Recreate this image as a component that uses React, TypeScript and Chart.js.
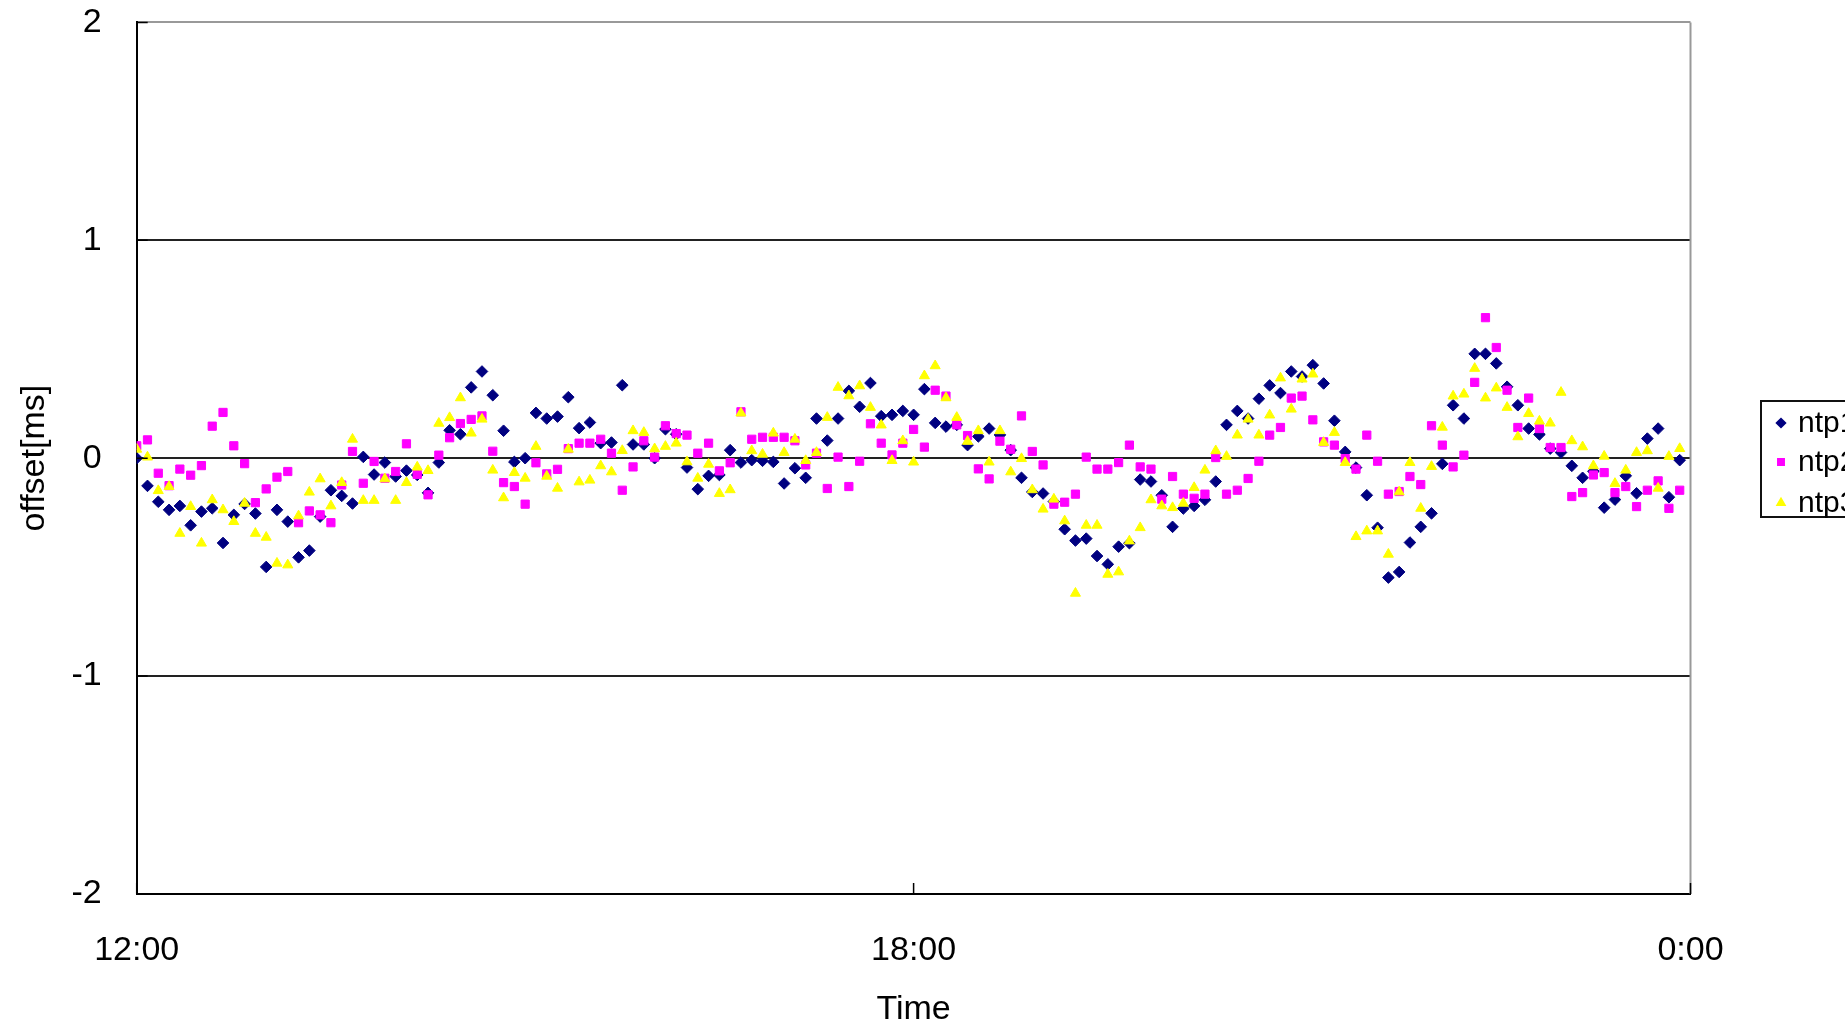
import { useEffect, useRef } from "react";
import { Chart, registerables, type ChartConfiguration, type Plugin } from "chart.js";
import { drawPoint } from "chart.js/helpers";

Chart.register(...registerables);

// offsets in ms, one sample every 5 minutes starting at 12:00
const NTP1 = [
  0.0, -0.127, -0.2, -0.237, -0.219, -0.308, -0.245, -0.23, -0.389, -0.26,
  -0.21, -0.254, -0.499, -0.237, -0.291, -0.455, -0.424, -0.268, -0.147, -0.173,
  -0.208, 0.006, -0.075, -0.02, -0.084, -0.057, -0.077, -0.159, -0.02, 0.128,
  0.11, 0.325, 0.398, 0.289, 0.126, -0.017, 0.0, 0.208, 0.182, 0.191,
  0.28, 0.138, 0.164, 0.069, 0.072, 0.335, 0.063, 0.063, 0.0, 0.133,
  0.11, -0.043, -0.142, -0.081, -0.077, 0.037, -0.02, -0.009, -0.012, -0.017,
  -0.116, -0.046, -0.09, 0.182, 0.081, 0.182, 0.309, 0.236, 0.345, 0.193,
  0.199, 0.217, 0.199, 0.317, 0.162, 0.145, 0.153, 0.06, 0.1, 0.136,
  0.107, 0.037, -0.09, -0.155, -0.162, -0.199, -0.326, -0.378, -0.369, -0.449,
  -0.487, -0.406, -0.39, -0.098, -0.107, -0.17, -0.315, -0.231, -0.219, -0.191,
  -0.107, 0.153, 0.217, 0.182, 0.273, 0.334, 0.299, 0.398, 0.375, 0.427,
  0.343, 0.172, 0.029, -0.043, -0.17, -0.319, -0.548, -0.522, -0.387, -0.315,
  -0.253, -0.026, 0.243, 0.182, 0.479, 0.479, 0.435, 0.328, 0.243, 0.136,
  0.109, 0.044, 0.026, -0.035, -0.09, -0.06, -0.227, -0.19, -0.081, -0.161,
  0.09, 0.136, -0.179, -0.009,
];

const NTP2 = [
  0.057, 0.084, -0.069, -0.126, -0.05, -0.078, -0.034, 0.147, 0.21, 0.057,
  -0.025, -0.204, -0.141, -0.087, -0.061, -0.296, -0.242, -0.26, -0.296, -0.123,
  0.031, -0.115, -0.015, -0.092, -0.061, 0.066, -0.074, -0.168, 0.014, 0.094,
  0.159, 0.178, 0.194, 0.032, -0.112, -0.13, -0.211, -0.021, -0.072, -0.051,
  0.044, 0.069, 0.069, 0.087, 0.023, -0.147, -0.04, 0.08, 0.005, 0.149,
  0.113, 0.106, 0.023, 0.069, -0.058, -0.021, 0.213, 0.087, 0.096, 0.096,
  0.096, 0.08, -0.031, 0.023, -0.139, 0.005, -0.13, -0.014, 0.158, 0.069,
  0.015, 0.069, 0.132, 0.051, 0.312, 0.285, 0.153, 0.104, -0.049, -0.095,
  0.078, 0.041, 0.194, 0.031, -0.031, -0.211, -0.202, -0.165, 0.005, -0.05,
  -0.05, -0.02, 0.06, -0.04, -0.05, -0.188, -0.084, -0.165, -0.184, -0.165,
  0.003, -0.165, -0.147, -0.093, -0.014, 0.106, 0.141, 0.276, 0.285, 0.176,
  0.075, 0.06, -0.002, -0.05, 0.106, -0.014, -0.165, -0.153, -0.084, -0.121,
  0.149, 0.06, -0.04, 0.014, 0.348, 0.645, 0.508, 0.312, 0.141, 0.276,
  0.136, 0.049, 0.049, -0.176, -0.158, -0.077, -0.066, -0.158, -0.13, -0.222,
  -0.147, -0.104, -0.23, -0.147,
];

const NTP3 = [
  0.041, 0.005, -0.149, -0.13, -0.345, -0.222, -0.39, -0.191, -0.237, -0.291,
  -0.207, -0.345, -0.363, -0.482, -0.49, -0.265, -0.156, -0.095, -0.219, -0.112,
  0.087, -0.194, -0.194, -0.095, -0.194, -0.112, -0.041, -0.057, 0.16, 0.186,
  0.277, 0.115, 0.179, -0.055, -0.182, -0.066, -0.092, 0.054, -0.083, -0.138,
  0.041, -0.109, -0.101, -0.035, -0.063, 0.035, 0.126, 0.118, 0.043, 0.054,
  0.069, -0.017, -0.092, -0.028, -0.162, -0.145, 0.207, 0.034, 0.018, 0.115,
  0.026, 0.087, -0.011, 0.026, 0.187, 0.325, 0.286, 0.332, 0.233, 0.152,
  -0.011, 0.08, -0.018, 0.378, 0.424, 0.277, 0.187, 0.077, 0.126, -0.018,
  0.126, -0.063, -0.002, -0.145, -0.234, -0.188, -0.288, -0.62, -0.308, -0.308,
  -0.533, -0.522, -0.38, -0.319, -0.191, -0.219, -0.227, -0.207, -0.135, -0.055,
  0.034, 0.008, 0.106, 0.179, 0.106, 0.198, 0.368, 0.225, 0.363, 0.386,
  0.072, 0.118, -0.02, -0.36, -0.334, -0.334, -0.441, -0.155, -0.02, -0.23,
  -0.038, 0.142, 0.285, 0.294, 0.412, 0.276, 0.322, 0.233, 0.098, 0.205,
  0.17, 0.161, 0.302, 0.08, 0.052, -0.035, 0.009, -0.116, -0.055, 0.026,
  0.034, -0.138, 0.008, 0.044,
];

const SERIES_NAMES = ["ntp1", "ntp2", "ntp3"];
const X_TICK_LABELS = ["12:00", "18:00", "0:00"];
const SAMPLE_MINUTES = 5;
const SPAN_MINUTES = 720;

const FONT = "'Liberation Sans', Arial, sans-serif";

const toPoints = (vals: number[]) =>
  vals.map((y, i) => ({ x: i * SAMPLE_MINUTES, y }));

// Excel-ish extras: inward tick marks, grey right border, clipped legend box
const framePlugin: Plugin<"scatter"> = {
  id: "frame",
  afterDraw(chart) {
    const { ctx, chartArea } = chart;
    const xs = chart.scales.x;
    const ys = chart.scales.y;
    ctx.save();

    ctx.strokeStyle = "#999";
    ctx.lineWidth = 2;
    ctx.beginPath();
    ctx.moveTo(chartArea.right, chartArea.top);
    ctx.lineTo(chartArea.right, chartArea.bottom);
    ctx.stroke();

    ctx.strokeStyle = "#000";
    ctx.lineWidth = 1.5;
    ctx.beginPath();
    xs.ticks.forEach((t) => {
      const px = xs.getPixelForValue(t.value);
      ctx.moveTo(px, chartArea.bottom);
      ctx.lineTo(px, chartArea.bottom - 11);
    });
    ys.ticks.forEach((t) => {
      const py = ys.getPixelForValue(t.value);
      ctx.moveTo(chartArea.left, py);
      ctx.lineTo(chartArea.left + 11, py);
    });
    ctx.stroke();

    // legend
    ctx.lineWidth = 2;
    ctx.strokeStyle = "#111";
    ctx.strokeRect(1761, 401, 200, 116);
    const rows = [423, 462, 503];
    ctx.font = `30px ${FONT}`;
    ctx.textBaseline = "middle";
    chart.data.datasets.forEach((ds: any, i) => {
      ctx.fillStyle = ds.backgroundColor;
      ctx.strokeStyle = ds.borderColor;
      drawPoint(
        ctx,
        { pointStyle: ds.pointStyle, radius: 4.2, borderWidth: 1, rotation: 0 },
        1781,
        rows[i]
      );
      ctx.fillStyle = "#000";
      ctx.fillText(ds.label, 1798, rows[i] + 1);
    });
    ctx.restore();
  },
};

function OffsetChart() {
  const canvasRef = useRef<HTMLCanvasElement>(null);
  const chartRef = useRef<Chart | null>(null);

  useEffect(() => {
    if (!canvasRef.current) return;
    chartRef.current?.destroy();

    const mk = (label: string, vals: number[], color: string, style: string, order: number) => ({
      label,
      data: toPoints(vals),
      backgroundColor: color,
      borderColor: color,
      pointStyle: style,
      pointRadius: 5.8,
      pointBorderWidth: 1,
      order,
    });

    const config: ChartConfiguration<"scatter"> = {
      type: "scatter",
      data: {
        datasets: [
          mk(SERIES_NAMES[0], NTP1, "#000080", "rectRot", 2),
          mk(SERIES_NAMES[1], NTP2, "#FF00FF", "rect", 1),
          mk(SERIES_NAMES[2], NTP3, "#FFFF00", "triangle", 0),
        ] as any,
      },
      options: {
        responsive: true,
        maintainAspectRatio: false,
        animation: false,
        layout: { padding: { left: 0, top: 22.4, right: 154.5, bottom: 0 } },
        plugins: {
          legend: { display: false },
          tooltip: { enabled: false },
        },
        scales: {
          x: {
            type: "linear",
            min: 0,
            max: SPAN_MINUTES,
            afterFit: (s) => {
              s.height = 129;
              s.paddingLeft = 0;
              s.paddingRight = 0;
            },
            afterBuildTicks: (s) => {
              s.ticks = X_TICK_LABELS.map((_, i) => ({ value: (i * SPAN_MINUTES) / 2 }));
            },
            grid: { display: false },
            border: { display: true, color: "#000", width: 2 },
            ticks: {
              padding: 28,
              color: "#000",
              maxRotation: 0,
              font: { family: FONT, size: 34 },
              callback: (v) => X_TICK_LABELS[Math.round(Number(v) / (SPAN_MINUTES / 2))],
            },
            title: {
              display: true,
              text: "Time",
              color: "#000",
              padding: { top: 0, bottom: 0 },
              font: { family: FONT, size: 34, lineHeight: 0.8 },
            },
          },
          y: {
            min: -2,
            max: 2,
            afterFit: (s) => {
              s.width = 136.7;
              s.paddingTop = 0;
              s.paddingBottom = 0;
            },
            grid: {
              drawTicks: false,
              lineWidth: 2,
              color: (c) => (c.tick && c.tick.value === 2 ? "#999" : "#222"),
            },
            border: { display: true, color: "#000", width: 2 },
            ticks: {
              stepSize: 1,
              padding: 35,
              color: "#000",
              font: { family: FONT, size: 34 },
            },
            title: {
              display: true,
              text: "offset[ms]",
              color: "#000",
              padding: { top: 14, bottom: 0 },
              font: { family: FONT, size: 34 },
            },
          },
        },
      },
      plugins: [framePlugin],
    };

    chartRef.current = new Chart(canvasRef.current, config);
    return () => {
      chartRef.current?.destroy();
      chartRef.current = null;
    };
  }, []);

  return (
    <div
      style={{
        position: "fixed",
        left: 0,
        top: 0,
        width: 1845,
        height: 1023,
        background: "#fff",
        overflow: "hidden",
      }}
    >
      <canvas ref={canvasRef} />
    </div>
  );
}

export default function App() {
  return <OffsetChart />;
}
